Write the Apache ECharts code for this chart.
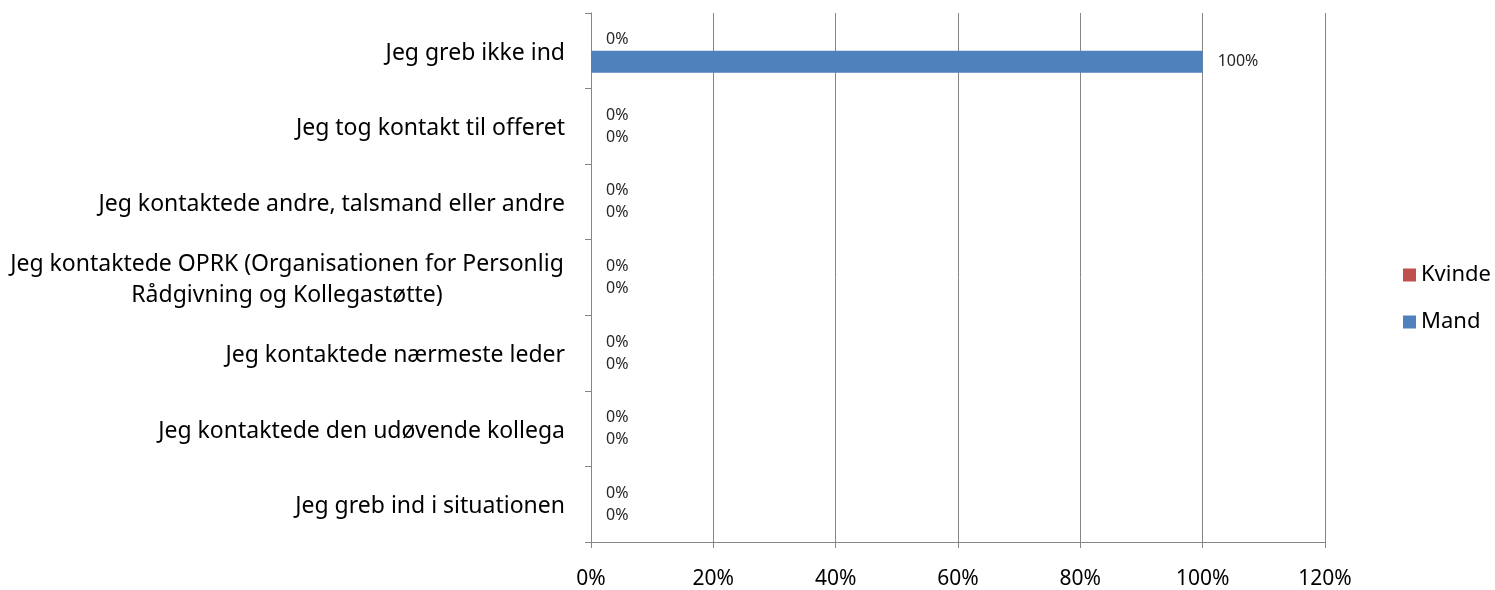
<!DOCTYPE html>
<html>
<head>
<meta charset="utf-8">
<script src="https://cdn.jsdelivr.net/npm/echarts@6/dist/echarts.min.js"></script>
<style>
  html, body { margin: 0; padding: 0; background: #fff; }
  #main { width: 1495px; height: 590px; }
</style>
</head>
<body>
<div id="main"></div>
<script>
// kategorier nedefra og op (som i Excel)
var categories = [
  'Jeg greb ind i situationen',
  'Jeg kontaktede den udøvende kollega',
  'Jeg kontaktede nærmeste leder',
  'Jeg kontaktede OPRK (Organisationen for Personlig\nRådgivning og Kollegastøtte)',
  'Jeg kontaktede andre, talsmand eller andre',
  'Jeg tog kontakt til offeret',
  'Jeg greb ikke ind'
];
var kvinde = [0, 0, 0, 0, 0, 0, 0];
var mand = [0, 0, 0, 0, 0, 0, 100];
var xTicks = [0, 20, 40, 60, 80, 100, 120];

var FONT = '"Noto Sans", sans-serif';
var chart = echarts.init(document.getElementById('main'), null, { renderer: 'canvas' });

function barLabel() {
  return {
    show: true,
    position: 'right',
    distance: 15,
    color: '#262626',
    fontSize: 16,
    fontFamily: FONT,
    formatter: function (p) { return p.value + '%'; }
  };
}

var option = {
  animation: false,
  grid: { left: 591, right: 170, top: 13, bottom: 45, containLabel: false },
  legend: {
    orient: 'vertical',
    left: 1398,
    top: 259,
    itemWidth: 13,
    itemHeight: 13,
    itemGap: 25,
    icon: 'rect',
    data: ['Kvinde', 'Mand'],
    textStyle: { fontSize: 22, fontFamily: FONT, color: '#000' }
  },
  xAxis: {
    type: 'value',
    min: xTicks[0],
    max: xTicks[xTicks.length - 1],
    interval: 20,
    axisLine: { show: true, lineStyle: { color: '#868686' } },
    axisTick: { show: true, length: 6, lineStyle: { color: '#868686' } },
    splitLine: { show: true, lineStyle: { color: '#868686' } },
    axisLabel: {
      margin: 27,
      fontSize: 21,
      fontFamily: FONT,
      color: '#000',
      formatter: '{value}%'
    }
  },
  yAxis: {
    type: 'category',
    data: categories,
    axisLine: { show: true, lineStyle: { color: '#868686' } },
    axisTick: { show: true, length: 6, lineStyle: { color: '#868686' } },
    axisLabel: {
      margin: 26,
      fontSize: 23,
      fontFamily: FONT,
      color: '#000',
      lineHeight: 30,
      padding: [5, 0, 0, 0],
      formatter: function (v) {
        if (v.indexOf('\n') < 0) return v;
        return v.split('\n').map(function (s) { return '{c|' + s + '}'; }).join('\n');
      },
      rich: {
        c: { width: 556, align: 'center', fontSize: 23, fontFamily: FONT, color: '#000', lineHeight: 31 }
      }
    }
  },
  series: [
    {
      name: 'Kvinde',
      type: 'bar',
      data: kvinde,
      barWidth: 22,
      barGap: '0%',
      itemStyle: { color: '#C0504D' },
      label: barLabel()
    },
    {
      name: 'Mand',
      type: 'bar',
      data: mand,
      barWidth: 22,
      barGap: '0%',
      itemStyle: { color: '#4F81BD' },
      label: barLabel()
    }
  ]
};

chart.setOption(option);
</script>
</body>
</html>
